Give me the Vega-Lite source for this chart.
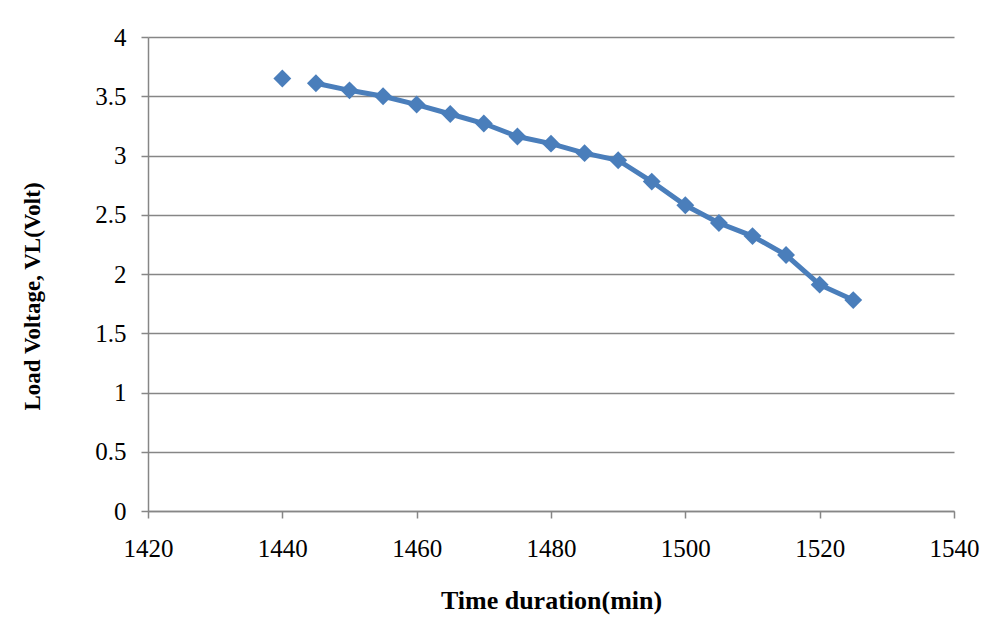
{
  "$schema": "https://vega.github.io/schema/vega-lite/v6.json",
  "width": 806,
  "height": 474,
  "autosize": {"type": "none"},
  "padding": {"left": 148, "top": 37, "right": 45, "bottom": 132},
  "background": "white",
  "config": {
    "view": {"stroke": null},
    "font": "Liberation Serif",
    "axis": {
      "labelFont": "Liberation Serif",
      "titleFont": "Liberation Serif",
      "labelFontSize": 25,
      "titleFontSize": 24,
      "titleFontWeight": "bold",
      "labelColor": "#000000",
      "titleColor": "#000000",
      "domainColor": "#868686",
      "tickColor": "#868686",
      "gridColor": "#868686",
      "domainWidth": 1.5,
      "tickWidth": 1.5,
      "gridWidth": 1.5,
      "tickSize": 7,
      "labelFlush": false
    }
  },
  "data": {
    "values": [
      {"t": 1440, "v": 3.65},
      {"t": 1445, "v": 3.61},
      {"t": 1450, "v": 3.55},
      {"t": 1455, "v": 3.50},
      {"t": 1460, "v": 3.43},
      {"t": 1465, "v": 3.35},
      {"t": 1470, "v": 3.27},
      {"t": 1475, "v": 3.16},
      {"t": 1480, "v": 3.10},
      {"t": 1485, "v": 3.02},
      {"t": 1490, "v": 2.96},
      {"t": 1495, "v": 2.78},
      {"t": 1500, "v": 2.58},
      {"t": 1505, "v": 2.43},
      {"t": 1510, "v": 2.32},
      {"t": 1515, "v": 2.16},
      {"t": 1520, "v": 1.91},
      {"t": 1525, "v": 1.78}
    ]
  },
  "encoding": {
    "x": {
      "field": "t",
      "type": "quantitative",
      "scale": {"domain": [1420, 1540], "nice": false, "zero": false},
      "axis": {
        "title": "Time duration(min)",
        "values": [1420, 1440, 1460, 1480, 1500, 1520, 1540],
        "format": "d",
        "grid": false,
        "labelFlush": false,
        "labelOverlap": false,
        "labelPadding": 18,
        "titlePadding": 26,
        "titleFontSize": 26
      }
    },
    "y": {
      "field": "v",
      "type": "quantitative",
      "scale": {"domain": [0, 4], "nice": false},
      "axis": {
        "title": "Load Voltage, VL(Volt)",
        "values": [0, 0.5, 1, 1.5, 2, 2.5, 3, 3.5, 4],
        "format": "~g",
        "grid": true,
        "labelFlush": false,
        "labelOverlap": false,
        "labelPadding": 15,
        "titlePadding": 50,
        "titleFontSize": 23,
        "titleY": 259
      }
    }
  },
  "layer": [
    {
      "transform": [{"filter": "datum.t >= 1445"}],
      "mark": {"type": "line", "color": "#4A7EBB", "strokeWidth": 5}
    },
    {
      "mark": {"type": "point", "shape": "diamond", "filled": true, "size": 320, "color": "#4A7EBB", "opacity": 1}
    }
  ]
}
